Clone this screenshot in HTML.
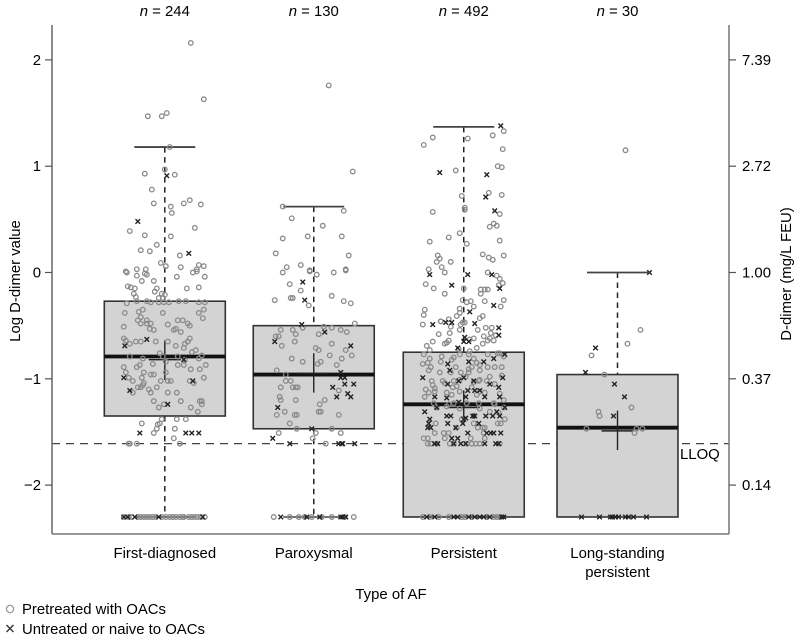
<!DOCTYPE html>
<html>
<head>
<meta charset="utf-8">
<title>D-dimer by type of AF</title>
<style>
html,body{margin:0;padding:0;background:#fff}
svg{display:block;filter:blur(0.35px)}
text{font-family:"Liberation Sans",Arial,sans-serif;font-size:14.9px;fill:#000}
</style>
</head>
<body>
<svg id="chart" width="800" height="639" viewBox="0 0 800 639" xmlns="http://www.w3.org/2000/svg">
  <text transform="translate(20,281) rotate(-90)" text-anchor="middle">Log D-dimer value</text>
  <text transform="translate(791,274) rotate(-90)" text-anchor="middle">D-dimer (mg/L FEU)</text>
  <text x="391" y="599" text-anchor="middle">Type of AF</text>
  <text x="680" y="459">LLOQ</text>
  <g>
    <circle cx="10" cy="609" r="3.6" fill="none" stroke="#999" stroke-width="1.3"/>
    <text x="22" y="614">Pretreated with OACs</text>
    <path d="M6.5 625 L13.5 632 M13.5 625 L6.5 632" stroke="#333" stroke-width="1.4" fill="none"/>
    <text x="22" y="634">Untreated or naive to OACs</text>
  </g>
</svg>
<script>
// ---- categories and labels ----
const categories = [["First-diagnosed"], ["Paroxysmal"], ["Persistent"], ["Long-standing", "persistent"]];
const categorySlots = [0, 0.993, 1.993, 3.018];
const groupCounts = [244, 130, 492, 30];
const leftTicks = [2, 1, 0, -1, -2];
const leftTickLabels = ["2", "1", "0", "\u22121", "\u22122"];
const rightTickLabels = ["7.39", "2.72", "1.00", "0.37", "0.14"];

// ---- box statistics (log D-dimer) ----
const boxQ1 = [-1.35, -1.47, -2.3, -2.3];
const boxMedian = [-0.79, -0.96, -1.24, -1.46];
const boxQ3 = [-0.27, -0.5, -0.75, -0.96];
const whiskerHigh = [1.18, 0.62, 1.37, 0];
const whiskerLow = [-2.3, -2.3, -2.3, -2.3];
const meanValue = [-0.82, -0.95, -1.27, -1.49];
const meanLow = [-1.01, -1.13, -1.42, -1.67];
const meanHigh = [-0.64, -0.76, -1.11, -1.3];
const lloqValue = -1.61;
const floorValue = -2.3;

// ---- jittered observations: value is log D-dimer, jitter in 1/150ths of a category ----
const firstCircleJitter = [26,39,-17,-3,2,5,0,-20,10,-13,
 -11,19,25,36,6,7,-35,-20,6,30,
 -8,-24,-15,15,-4,1,-28,-19,16,34,
 39,-39,32,-38,-28,-20,-18,-23,-11,12,
 28,32,40,-37,-34,-30,-8,-10,22,34,
 -31,-3,0,-29,-6,-2,-38,-28,-18,-14,
 -6,-1,4,14,21,34,40,-22,-26,-40,
 -2,34,39,-24,38,-27,-18,13,18,-24,
 -18,-14,3,23,25,-41,-15,-11,11,9,
 16,-41,-39,-35,-29,-24,-9,3,25,23,
 20,11,19,31,27,-5,37,-35,-2,13,
 34,-22,-25,-28,-41,-12,1,13,19,20,
 41,35,-39,-21,1,-14,-11,26,-36,-23,
 39,-32,-4,3,6,25,29,-21,-27,-24,
 -22,-8,-16,-32,-14,3,12,-11,16,35,
 37,37,-1,-6,26,33,-3,12,21,-5,
 -7,-23,-8,10,-11,9,-36,-35,-28,15];
const firstCircleValues = [2.16,1.63,1.47,1.47,1.5,1.18,.97,.93,.92,.78,
 .65,.65,.68,.64,.62,.56,.39,.35,.34,.42,
 .26,.21,.2,.16,.09,.06,.03,.03,.05,.07,
 .06,.01,.03,0,-.03,-.01,-.02,-.08,-.08,-.04,
 0,.01,-.04,-.13,-.14,-.15,-.15,-.18,-.15,-.14,
 -.2,-.2,-.21,-.23,-.24,-.24,-.29,-.27,-.27,-.28,
 -.28,-.28,-.28,-.27,-.27,-.28,-.28,-.35,-.37,-.38,
 -.38,-.38,-.35,-.42,-.43,-.45,-.45,-.45,-.45,-.48,
 -.48,-.48,-.49,-.48,-.5,-.51,-.53,-.54,-.53,-.54,
 -.56,-.62,-.64,-.67,-.65,-.65,-.65,-.65,-.62,-.65,
 -.67,-.69,-.71,-.73,-.75,-.76,-.78,-.79,-.79,-.79,
 -.81,-.81,-.87,-.89,-.89,-.86,-.84,-.87,-.87,-.82,
 -.87,-.91,-.94,-.94,-.94,-.96,-.96,-.91,-.99,-.99,
 -.99,-1.02,-1.02,-1.02,-1.02,-1.02,-1.04,-1.04,-1.08,-1.08,
 -1.06,-1.08,-1.1,-1.13,-1.13,-1.13,-1.13,-1.21,-1.21,-1.21,
 -1.21,-1.24,-1.24,-1.27,-1.27,-1.31,-1.38,-1.38,-1.38,-1.42,
 -1.43,-1.42,-1.47,-1.47,-1.51,-1.56,-1.61,-1.61,-1.61,-1.61];
const firstCrossJitter = [2,-27,24,-18,-40,-41,-35,28,3,-25,21,27,34,19];
const firstCrossValues = [.91,.48,.18,-.63,-.69,-.99,-1.11,-1.02,-1.24,-1.51,-1.51,-1.51,-1.51,-.82];
const firstFloorCircleJitter = [-41,-36,-33,-27,-24,-21,-18,-15,-12,-9,-3,1,5,8,11,15,18,19,24,27,30,33,36,40];
const firstFloorCrossJitter = [-41,-37,-30,-6,38];

const paroxCircleJitter = [15,-31,30,-22,9,-31,-6,28,-38,35,
 -27,-13,-4,32,39,-31,-4,3,20,32,
 -24,-13,-39,-23,-21,18,30,37,-5,41,
 -11,-33,-21,-18,-38,-35,5,18,27,33,
 10,-19,-32,18,2,5,32,38,16,28,
 -22,-11,4,7,23,-37,-28,-28,-23,-33,
 -21,-18,-16,25,-34,-33,-18,11,6,-29,
 5,7,-37,-19,-17,25,-24,-17,18,2,
 27,-35,-1,12];
const paroxCircleValues = [1.76,.62,.58,.51,.44,.32,.34,.34,.18,.16,
 .05,.07,.02,.03,.95,0,.01,-.02,0,.02,
 -.11,-.17,-.26,-.24,-.24,-.22,-.27,-.29,-.31,-.48,
 -.52,-.54,-.54,-.58,-.6,-.6,-.58,-.52,-.54,-.56,
 -.51,-.65,-.69,-.67,-.71,-.73,-.73,-.78,-.78,-.81,
 -.81,-.84,-.86,-.84,-.87,-.92,-.96,-1.02,-1.02,-1.08,
 -1.08,-1.08,-1.08,-1.11,-1.17,-1.2,-1.2,-1.2,-1.24,-1.31,
 -1.31,-1.31,-1.34,-1.34,-1.34,-1.34,-1.42,-1.47,-1.47,-1.51,
 -1.51,-1.51,-1.56,-1.61];
const paroxCrossJitter = [-11,-9,-12,11,-39,37,27,27,31,31,
 40,19,23,34,37,-36,-2,-41,-24,25,
 28,29,41];
const paroxCrossValues = [-.09,-.26,-.49,-.56,-.65,-.69,-.94,-.99,-.99,-1.05,
 -1.05,-1.08,-1.17,-1.14,-1.17,-1.27,-1.47,-1.56,-1.61,-1.61,
 -1.61,-1.61,-1.61];
const paroxFloorCircleJitter = [-40,-24,-15,-9,-2,8,18,31,40];
const paroxFloorCrossJitter = [-33,-7,6,27,29,32];

const persistCircleJitter = [-31,-40,4,29,40,39,34,38,-8,25,
 38,-2,1,1,-31,36,30,26,33,-4,
 -15,-34,36,3,19,25,29,40,-26,-24,
 -27,-13,-22,-35,-19,24,33,36,-38,-30,
 -19,39,35,0,17,21,24,17,-1,3,
 7,21,40,37,10,-4,-39,-40,-4,-7,
 19,16,-15,-23,
 -41,-23,-3,1,-4,-13,-14,-25,-1,14,
 22,28,27,20,32,26,30,10,6,24,
 19,-15,-17,-19,-31,-37,-34,13,6,-5,
 -40,-22,-10,-4,5,24,34,36,40,-34,
 -41,-36,-23,-33,-35,-12,10,13,16,8,
 5,-8,-3,-24,-13,31,38,24,5,16,
 -32,-31,-21,-19,-10,-7,-11,-4,16,23,
 31,26,38,15,2,8,10,-38,-29,-29,
 -35,-39,-17,-12,13,36,-4,16,21,-30,
 -15,-10,3,15,31,40,30,-27,-17,-4,
 16,26,40,35,41,34,37,10,14,19,
 21,-28,-7,20,-20,-15,-19,-29,7,-2,
 10,-40,-36,-36,-33,-27,-14,-10,3,8,
 12,16,36,21];
const persistCircleValues = [1.27,1.2,1.26,1.29,1.33,1.16,1,.99,.96,.75,
 .73,.72,.61,.59,.57,.55,.46,.43,.44,.37,
 .33,.29,.3,.27,.17,.14,.12,.16,.16,.13,
 .1,.1,.05,.03,0,0,-.03,-.06,-.11,-.15,
 -.2,-.1,-.12,-.15,-.16,-.16,-.16,-.2,-.26,-.28,
 -.27,-.27,-.26,-.32,-.32,-.34,-.35,-.4,-.38,-.41,
 -.41,-.43,-.44,-.46,
 -.49,-.46,-.49,-.47,-.54,-.51,-.57,-.58,-.47,-.54,
 -.52,-.52,-.57,-.6,-.59,-.62,-.64,-.62,-.63,-.64,
 -.67,-.64,-.66,-.67,-.65,-.69,-.73,-.71,-.74,-.72,
 -.77,-.79,-.8,-.77,-.77,-.77,-.76,-.76,-.79,-.81,
 -.86,-.85,-.84,-.89,-.92,-.82,-.81,-.85,-.87,-.89,
 -.91,-.89,-.94,-.94,-.94,-.89,-.89,-.89,-.94,-.92,
 -1.02,-1.06,-1.02,-1.04,-1.02,-1.07,-1.08,-1.01,-1.01,-1.02,
 -1.05,-.98,-.97,-1.02,-.98,-1.08,-1.03,-1.1,-1.09,-1.12,
 -1.13,-1.17,-1.13,-1.15,-1.15,-1.14,-1.12,-1.12,-1.13,-1.23,
 -1.24,-1.23,-1.23,-1.23,-1.24,-1.2,-1.23,-1.27,-1.26,-1.28,
 -1.28,-1.31,-1.27,-1.32,-1.38,-1.42,-1.42,-1.42,-1.46,-1.46,
 -1.46,-1.42,-1.46,-1.51,-1.51,-1.51,-1.56,-1.51,-1.56,-1.38,
 -1.35,-1.56,-1.56,-1.61,-1.61,-1.61,-1.61,-1.61,-1.61,-1.61,
 -1.61,-1.61,-1.61,-1.56];
const persistCrossJitter = [37,-24,23,22,31,-34,4,28,-12,36,
 30,6,-31,-18,-12,11,35,35,1,0,
 5,-6,41,30,20,5,-16,-14,-41,0,
 -5,10,-16,26,39,35,4,11,16,-29,
 2,21,36,-39,-27,41,-34,-35,-36,-33,
 -17,-13,9,11,22,29,33,36,0,2,
 -1,-16,-8,15,4,23,27,30,37,-12,
 -6,-29,-26,-10,-3,2,21,32,35,-17,
 -5];
const persistCrossValues = [1.38,.94,.92,.71,.58,-.02,-.02,-.02,-.12,-.15,
 -.31,-.37,-.49,-.47,-.47,-.48,-.52,-.59,-.61,-.65,
 -.65,-.71,-.77,-.81,-.84,-.84,-.86,-.92,-.99,-.99,
 -1.02,-1.02,-1.05,-1.05,-.99,-1.08,-1.11,-1.11,-1.11,-1.17,
 -1.17,-1.17,-1.17,-1.31,-1.27,-1.27,-1.38,-1.42,-1.46,-1.46,
 -1.35,-1.35,-1.35,-1.35,-1.35,-1.35,-1.31,-1.35,-1.38,-1.37,
 -1.42,-1.42,-1.46,-1.42,-1.51,-1.51,-1.51,-1.51,-1.51,-1.56,
 -1.56,-1.61,-1.61,-1.61,-1.61,-1.61,-1.61,-1.61,-1.61,-1.18,
 -1.22];
const persistFloorCircleJitter = [-41,-34,-25,-15,-2,1,8,23,30,33,36];
const persistFloorCrossJitter = [-37,-29,-10,-6,5,11,16,20,26,38,40];

const longCircleJitter = [8,23,10,-26,-13,14,-19,-18,17,-31,19,25];
const longCircleValues = [1.15,-.54,-.67,-.78,-.96,-1.27,-1.31,-1.35,-1.51,-1.47,-1.47,-1.47];
const longCrossJitter = [32,-22,-32,-3,7,-4];
const longCrossValues = [0,-.71,-.94,-1.05,-1.17,-1.35];
const longFloorCircleJitter = [];
const longFloorCrossJitter = [-36,-18,-7,-5,-2,1,8,11,16,29];

const circleJitterByGroup = [firstCircleJitter, paroxCircleJitter, persistCircleJitter, longCircleJitter];
const circleValuesByGroup = [firstCircleValues, paroxCircleValues, persistCircleValues, longCircleValues];
const crossJitterByGroup = [firstCrossJitter, paroxCrossJitter, persistCrossJitter, longCrossJitter];
const crossValuesByGroup = [firstCrossValues, paroxCrossValues, persistCrossValues, longCrossValues];
const floorCircleByGroup = [firstFloorCircleJitter, paroxFloorCircleJitter, persistFloorCircleJitter, longFloorCircleJitter];
const floorCrossByGroup = [firstFloorCrossJitter, paroxFloorCrossJitter, persistFloorCrossJitter, longFloorCrossJitter];

// ---- axis functions ----
const svgNS = "http://www.w3.org/2000/svg";
const chart = document.getElementById("chart");
const yScale = v => 272.5 - 106.3 * v;
const xScale = c => 164.8 + 150 * c;
const plotLeft = 52, plotRight = 729, plotTop = 25, plotBottom = 534;
const boxHalf = 60.5, capHalf = 30.5, meanHalf = 16;

function make(tag, attrs, text) {
  const el = document.createElementNS(svgNS, tag);
  for (const k in attrs) el.setAttribute(k, attrs[k]);
  if (text !== undefined) el.textContent = text;
  chart.appendChild(el);
  return el;
}
function line(x1, y1, x2, y2, stroke, width, dash) {
  const attrs = {x1, y1, x2, y2, stroke, "stroke-width": width};
  if (dash) attrs["stroke-dasharray"] = dash;
  return make("line", attrs);
}

// reference line behind the boxes
const lloqLine = line(plotLeft, yScale(lloqValue), plotRight, yScale(lloqValue), "#444", 1.2, "8 6");



// axes
const axisLeft = line(plotLeft, plotTop, plotLeft, plotBottom, "#666", 1.5);


const axisRight = line(plotRight, plotTop, plotRight, plotBottom, "#777", 1.5);


const axisBottom = line(plotLeft, plotBottom, plotRight, plotBottom, "#777", 1.5);



leftTicks.forEach((v, i) => {
  const y = yScale(v);
  const t1 = line(plotLeft - 7, y, plotLeft, y, "#555", 1.2);
  
  
  const l1 = make("text", {x: 41, y: y + 5, "text-anchor": "end"}, leftTickLabels[i]);
  
  
  const t2 = line(plotRight, y, plotRight + 7, y, "#555", 1.2);
  
  
  const l2 = make("text", {x: 742, y: y + 5}, rightTickLabels[i]);
  
  
});

categories.forEach((labels, i) => {
  const slot = categorySlots[i];
  const cx = xScale(slot);
  const top = yScale(boxQ3[i]), bottom = yScale(boxQ1[i]), med = yScale(boxMedian[i]);
  const upper = yScale(whiskerHigh[i]), lower = yScale(whiskerLow[i]);

  labels.forEach((text, j) => {
    const lab = make("text", {x: cx, y: 558 + j * 19, "text-anchor": "middle"}, text);
    
    
  });

  const nLabel = make("text", {x: cx, y: 16, "text-anchor": "middle"});
  
  
  const nItalic = document.createElementNS(svgNS, "tspan");
  nItalic.setAttribute("font-style", "italic");
  nItalic.textContent = "n";
  nLabel.appendChild(nItalic);
  nLabel.appendChild(document.createTextNode(" = " + groupCounts[i]));

  const wU = line(cx, upper, cx, top, "#222", 1.5, "5.5 4.5");
  
  
  const capU = line(cx - capHalf, upper, cx + capHalf, upper, "#444", 1.8);
  
  
  if (lower > bottom + 1) {
    const wL = line(cx, bottom, cx, lower, "#222", 1.5, "5.5 4.5");
    
    
    const capL = line(cx - capHalf, lower, cx + capHalf, lower, "#444", 1.5);
    
    
  }

  const box = make("rect", {x: cx - boxHalf, y: top, width: boxHalf * 2, height: bottom - top, fill: "#d3d3d3", stroke: "#333", "stroke-width": 1.6});
  
  
  const median = line(cx - boxHalf, med, cx + boxHalf, med, "#111", 3.8);
  
  
  const meanV = line(cx, yScale(meanLow[i]), cx, yScale(meanHigh[i]), "#222", 1.4);
  
  
  const meanH = line(cx - meanHalf, yScale(meanValue[i]), cx + meanHalf, yScale(meanValue[i]), "#222", 1.4);
  
  

  const drawCircle = (j, v) => {
    const c = make("circle", {cx: xScale(slot + j / 150), cy: yScale(v), r: 2.3, fill: "none", stroke: "#8a8a8a", "stroke-width": 1.3});
    
    
  };
  const drawCross = (j, v) => {
    const x = xScale(slot + j / 150), y = yScale(v), s = 2.3;
    const p = make("path", {d: `M${x - s} ${y - s}L${x + s} ${y + s}M${x + s} ${y - s}L${x - s} ${y + s}`, fill: "none", stroke: "#222", "stroke-width": 1.4});
    
    
  };
  circleValuesByGroup[i].forEach((v, k) => drawCircle(circleJitterByGroup[i][k], v));
  floorCircleByGroup[i].forEach(j => drawCircle(j, floorValue));
  crossValuesByGroup[i].forEach((v, k) => drawCross(crossJitterByGroup[i][k], v));
  floorCrossByGroup[i].forEach(j => drawCross(j, floorValue));
});
</script>
</body>
</html>
